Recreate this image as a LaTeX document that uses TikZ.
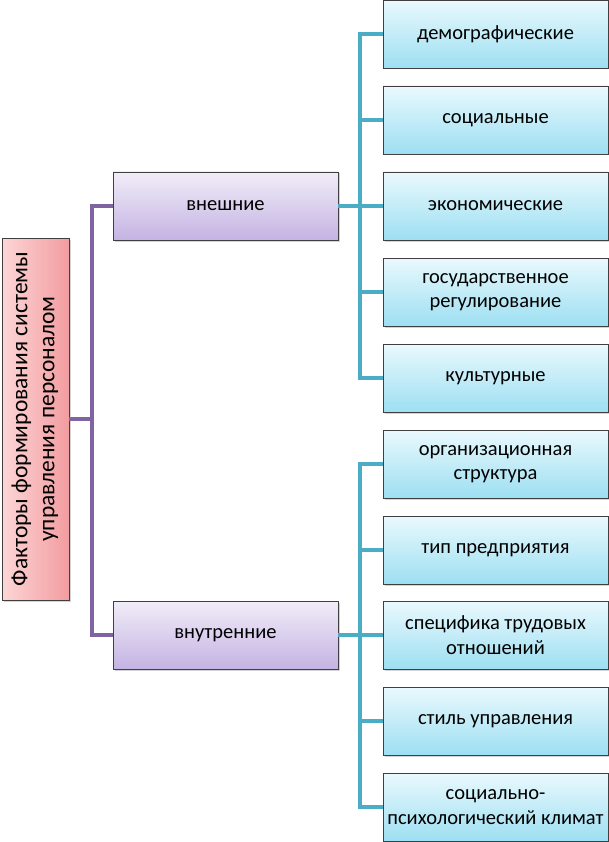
\documentclass[tikz,border=0pt]{standalone}
\usepackage{fontspec}
\setmainfont{Carlito}
\usepackage{graphicx}
\usepackage{tikz}
\usetikzlibrary{shadows}
\definecolor{leaftop}{HTML}{EAF9FD}
\definecolor{leafbot}{HTML}{9DDFF2}
\definecolor{midtop}{HTML}{F1EDF8}
\definecolor{midbot}{HTML}{C4B3E3}
\definecolor{rootl}{HTML}{FDD6D6}
\definecolor{rootr}{HTML}{F29CA0}
\definecolor{purpline}{HTML}{8064A2}
\definecolor{tealline}{HTML}{4BACC6}

\tikzset{
  box/.style={draw=black!75, line width=0.6pt, inner sep=0pt, align=center,
    font=\fontsize{20.5}{24.5}\selectfont,
    drop shadow={opacity=0.35, shadow xshift=1.5pt, shadow yshift=-1.5pt}},
  leafbox/.style={box, minimum width=225pt, minimum height=68pt,
    top color=leaftop, bottom color=leafbot},
  midbox/.style={box, minimum width=225pt, minimum height=68pt,
    top color=midtop, bottom color=midbot},
  rootbox/.style={box, minimum width=67pt, minimum height=362pt,
    left color=rootl, right color=rootr},
  purp/.style={draw=purpline, line width=3.5pt},
  teal/.style={draw=tealline, line width=3.5pt},
}

\begin{document}
\begin{tikzpicture}[x=1pt, y=-1pt]
  \def\lx{495.5}
  \def\mx{225.5}
  \def\px{92}
  \def\tx{360}

  \useasboundingbox (0,0) rectangle (609,842);

  % root
  \node[rootbox] (root) at (35.5, 419)
    {\rotatebox{90}{\fontsize{23.5}{27}\selectfont
      \begin{tabular}{@{}c@{}}Факторы формирования системы\\управления персоналом\end{tabular}}};

  % groups
  \node[midbox] (ext) at (\mx, 206) {внешние};
  \node[midbox] (int) at (\mx, 635) {внутренние};

  % external factors
  \node[leafbox] (e1) at (\lx, 34)  {демографические};
  \node[leafbox] (e2) at (\lx, 120) {социальные};
  \node[leafbox] (e3) at (\lx, 206) {экономические};
  \node[leafbox] (e4) at (\lx, 292) {государственное\\регулирование};
  \node[leafbox] (e5) at (\lx, 378) {культурные};

  % internal factors
  \node[leafbox] (i1) at (\lx, 464) {организационная\\структура};
  \node[leafbox] (i2) at (\lx, 550) {тип предприятия};
  \node[leafbox] (i3) at (\lx, 635) {специфика трудовых\\отношений};
  \node[leafbox] (i4) at (\lx, 721) {стиль управления};
  \node[leafbox] (i5) at (\lx, 807) {социально-\\психологический климат};

  \coordinate (pj) at (\px, 419);
  \coordinate (ej) at (\tx, 206);
  \coordinate (ij) at (\tx, 635);

  \draw[purp] (root.east) -- (pj);
  \draw[purp] (pj) |- (ext.west);
  \draw[purp] (pj) |- (int.west);

  \draw[teal] (ext.east) -- (ej);
  \draw[teal] (ej) |- (e1.west);
  \draw[teal] (ej) |- (e2.west);
  \draw[teal] (ej) |- (e4.west);
  \draw[teal] (ej) |- (e5.west);
  \draw[teal] (ej) -- (e3.west);

  \draw[teal] (int.east) -- (ij);
  \draw[teal] (ij) |- (i1.west);
  \draw[teal] (ij) |- (i2.west);
  \draw[teal] (ij) |- (i4.west);
  \draw[teal] (ij) |- (i5.west);
  \draw[teal] (ij) -- (i3.west);
\end{tikzpicture}
\end{document}
